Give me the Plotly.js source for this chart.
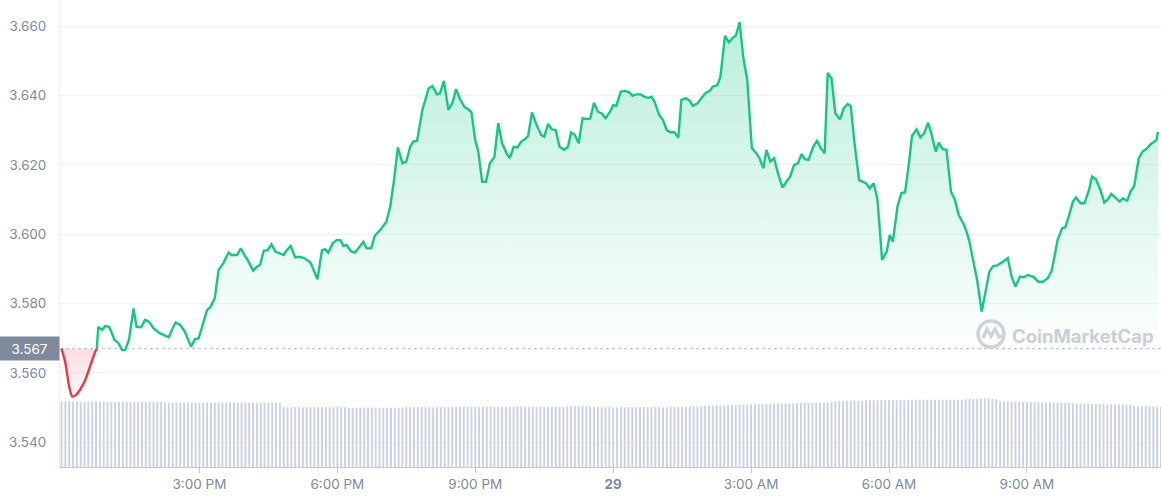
<!DOCTYPE html>
<html>
<head>
<meta charset="utf-8">
<script src="https://cdn.plot.ly/plotly-3.0.1.min.js"></script>
<style>
  html, body { margin: 0; padding: 0; background: #fff; }
  #chart { width: 1161px; height: 500px; }
</style>
</head>
<body>
<div id="chart"></div>
<script>
// ---------------- DATA ----------------
const DAY1 = "2022-10-28";
const DAY2 = "2022-10-29";
const BASE_PRICE = 3.567;

const PRICE_TIMES = [
"12:00","12:05","12:10","12:14","12:19","12:24","12:31","12:37","12:44","12:46",
"12:48","12:53","12:57","13:02","13:05","13:09","13:14","13:19","13:23","13:28",
"13:34","13:38","13:44","13:49","13:54","14:00","14:07","14:13","14:20","14:25",
"14:29","14:35","14:41","14:49","14:54","14:59","15:04","15:10","15:14","15:20",
"15:25","15:31","15:38","15:42","15:49","15:54","16:00","16:03","16:10","16:15",
"16:19","16:24","16:29","16:34","16:39","16:44","16:50","16:54","16:59","17:05",
"17:10","17:16","17:20","17:25","17:30","17:34","17:40","17:44","17:48","17:54",
"17:59","18:04","18:08","18:12","18:18","18:23","18:29","18:34","18:38","18:44",
"18:49","18:56","19:04","19:09","19:14","19:19","19:25","19:30","19:35","19:39",
"19:44","19:51","19:56","19:59","20:04","20:10","20:14","20:19","20:25","20:30",
"20:35","20:40","20:46","20:51","20:55","21:00","21:04","21:09","21:14","21:19",
"21:25","21:30","21:35","21:41","21:45","21:50","21:55","22:00","22:05","22:09",
"22:14","22:20","22:26","22:30","22:35","22:40","22:45","22:50","22:56","23:01",
"23:05","23:10","23:15","23:20","23:25","23:30","23:35","23:40","23:45","23:50",
"23:56","00:00","00:04","00:10","00:15","00:21","00:25","00:30","00:36","00:41",
"00:46","00:50","00:54","01:00","01:05","01:10","01:15","01:20","01:25","01:29",
"01:35","01:40","01:44","01:50","01:55","02:01","02:06","02:10","02:16","02:20",
"02:26","02:31","02:36","02:40","02:45","02:50","02:55","03:01","03:07","03:11",
"03:16","03:20","03:25","03:30","03:35","03:41","03:46","03:51","03:56","04:01",
"04:06","04:10","04:15","04:21","04:26","04:31","04:36","04:40","04:45","04:50",
"04:56","05:01","05:06","05:10","05:15","05:21","05:26","05:30","05:35","05:40",
"05:45","05:51","05:57","06:01","06:05","06:11","06:16","06:21","06:26","06:30",
"06:36","06:41","06:46","06:51","06:55","07:01","07:05","07:10","07:15","07:21",
"07:26","07:31","07:37","07:41","07:45","07:50","07:55","08:01","08:06","08:11",
"08:16","08:21","08:27","08:35","08:40","08:45","08:51","08:56","09:01","09:08",
"09:15","09:21","09:27","09:32","09:36","09:40","09:46","09:50","09:54","10:00",
"10:04","10:10","10:15","10:21","10:25","10:30","10:36","10:41","10:46","10:50",
"10:55","11:01","11:05","11:11","11:15","11:20","11:26","11:31","11:37","11:42",
"11:49","11:51"
];

const PRICES = [
3.5670,3.5629,3.5560,3.5532,3.5537,3.5551,3.5580,3.5617,3.5661,3.5670,
3.5733,3.5724,3.5735,3.5733,3.5719,3.5695,3.5687,3.5666,3.5666,3.5695,
3.5786,3.5733,3.5732,3.5753,3.5748,3.5729,3.5716,3.5710,3.5703,3.5729,
3.5746,3.5738,3.5719,3.5676,3.5697,3.5700,3.5738,3.5782,3.5789,3.5815,
3.5897,3.5916,3.5947,3.5940,3.5940,3.5959,3.5935,3.5926,3.5895,3.5906,
3.5911,3.5952,3.5954,3.5971,3.5950,3.5945,3.5940,3.5954,3.5966,3.5933,
3.5935,3.5932,3.5926,3.5918,3.5892,3.5870,3.5954,3.5957,3.5947,3.5974,
3.5983,3.5983,3.5966,3.5969,3.5950,3.5947,3.5964,3.5978,3.5959,3.5959,
3.5996,3.6012,3.6036,3.6079,3.6156,3.6250,3.6204,3.6209,3.6252,3.6267,
3.6269,3.6358,3.6396,3.6420,3.6427,3.6403,3.6406,3.6442,3.6358,3.6377,
3.6418,3.6390,3.6366,3.6360,3.6351,3.6271,3.6238,3.6151,3.6151,3.6204,
3.6223,3.6320,3.6262,3.6233,3.6219,3.6252,3.6250,3.6267,3.6274,3.6283,
3.6351,3.6315,3.6286,3.6281,3.6318,3.6302,3.6300,3.6252,3.6243,3.6252,
3.6293,3.6286,3.6262,3.6334,3.6332,3.6333,3.6379,3.6353,3.6348,3.6334,
3.6353,3.6372,3.6370,3.6411,3.6413,3.6409,3.6399,3.6403,3.6403,3.6396,
3.6393,3.6396,3.6382,3.6344,3.6329,3.6300,3.6294,3.6294,3.6278,3.6387,
3.6392,3.6384,3.6370,3.6377,3.6392,3.6408,3.6413,3.6425,3.6430,3.6454,
3.6572,3.6553,3.6566,3.6572,3.6611,3.6507,3.6444,3.6248,3.6233,3.6219,
3.6190,3.6243,3.6209,3.6219,3.6176,3.6134,3.6151,3.6166,3.6199,3.6204,
3.6231,3.6216,3.6214,3.6252,3.6269,3.6248,3.6233,3.6465,3.6449,3.6348,
3.6331,3.6363,3.6375,3.6370,3.6262,3.6156,3.6151,3.6147,3.6132,3.6147,
3.6099,3.5926,3.5950,3.5998,3.5978,3.6079,3.6118,3.6121,3.6204,3.6283,
3.6302,3.6279,3.6291,3.6321,3.6293,3.6238,3.6264,3.6245,3.6243,3.6122,
3.6099,3.6055,3.6031,3.6009,3.5978,3.5926,3.5868,3.5777,3.5830,3.5892,
3.5908,3.5910,3.5918,3.5931,3.5878,3.5849,3.5878,3.5876,3.5882,3.5878,
3.5863,3.5863,3.5873,3.5892,3.5935,3.5983,3.6017,3.6020,3.6046,3.6094,
3.6106,3.6089,3.6089,3.6127,3.6166,3.6158,3.6127,3.6091,3.6101,3.6116,
3.6106,3.6094,3.6103,3.6097,3.6122,3.6139,3.6219,3.6238,3.6248,3.6260,
3.6271,3.6295
];
// number of leading points drawn in red (below the opening price)
const RED_COUNT = 10;

// 5-minute volume bars (millions), starting 12:00
const VOLUME_START = "12:00";
const VOLUME = [
141,141,141,140,140,140,140,140,140,140,140,140,
139,139,139,139,139,139,139,139,139,139,139,139,
139,139,139,138,138,138,138,138,138,138,138,138,
138,138,138,138,138,138,138,138,138,138,138,138,
138,138,138,138,138,138,138,138,138,137,129,128,
128,128,128,128,128,128,128,128,128,128,128,128,
128,128,128,127,127,127,127,127,127,127,127,127,
127,127,127,127,127,127,128,128,128,128,128,128,
128,128,128,128,128,128,129,129,129,129,129,129,
129,129,129,129,129,129,129,129,129,129,129,129,
129,129,129,129,129,129,129,129,129,129,129,129,
130,130,130,130,130,130,130,129,128,128,128,128,
128,128,128,128,128,128,128,128,128,128,128,128,
128,128,128,128,129,129,129,129,130,130,130,130,
131,131,131,132,132,132,132,133,133,133,133,134,
134,134,135,135,135,135,136,136,136,136,136,136,
137,137,137,137,137,137,138,138,138,139,141,141,
142,142,142,142,142,142,143,143,143,143,143,143,
143,143,143,143,143,143,144,144,144,144,144,144,
144,144,144,144,144,144,144,144,145,146,146,146,
147,147,147,146,145,141,140,140,140,140,140,139,
139,139,139,139,138,138,138,138,137,137,137,137,
136,136,136,136,136,135,135,135,135,134,134,134,
134,134,133,133,131,130,130,130,130,130,129,129
];

const Y_TICKS = [3.54, 3.56, 3.58, 3.60, 3.62, 3.64, 3.66];
const Y_TICK_LABELS = ["3.540","3.560","3.580","3.600","3.620","3.640","3.660"];
const X_TICKS = [DAY1+" 15:00", DAY1+" 18:00", DAY1+" 21:00", DAY2+" 00:00", DAY2+" 03:00", DAY2+" 06:00", DAY2+" 09:00"];
const X_TICK_LABELS = ["3:00 PM","6:00 PM","9:00 PM","<b>29</b>","3:00 AM","6:00 AM","9:00 AM"];
const X_RANGE = [DAY1+" 11:58", DAY2+" 11:55"];
const Y_RANGE = [3.5329, 3.6675];

// ---------------- BUILD ----------------
function withDates(times) {
  let day = DAY1, prev = "";
  return times.map(t => {
    if (prev && t < prev) day = DAY2;
    prev = t;
    return day + " " + t;
  });
}
const priceX = withDates(PRICE_TIMES);

// volume timestamps every 5 minutes
const volX = [];
{
  const [h0, m0] = VOLUME_START.split(":").map(Number);
  const start = new Date(DAY1 + "T00:00:00Z").getTime() + (h0*60+m0)*60000;
  for (let i = 0; i < VOLUME.length; i++) {
    const d = new Date(start + i*300000);
    const pad = n => String(n).padStart(2, "0");
    volX.push(d.getUTCFullYear()+"-"+pad(d.getUTCMonth()+1)+"-"+pad(d.getUTCDate())+" "+pad(d.getUTCHours())+":"+pad(d.getUTCMinutes()));
  }
}

const GREEN = "#16c784";
const RED = "#ea3943";

const redX = priceX.slice(0, RED_COUNT), redY = PRICES.slice(0, RED_COUNT);
const greenX = priceX.slice(RED_COUNT - 1), greenY = PRICES.slice(RED_COUNT - 1);

const traces = [
  { type: "bar", x: volX, y: VOLUME, yaxis: "y2", marker: { color: "#cbd1e2", line: { width: 0 } }, hoverinfo: "skip", showlegend: false },
  { type: "scatter", mode: "lines", x: redX, y: redX.map(() => BASE_PRICE), line: { width: 0, color: "rgba(0,0,0,0)" }, hoverinfo: "skip", showlegend: false },
  { type: "scatter", mode: "lines", x: redX, y: redY, fill: "tonexty",
    fillgradient: { type: "vertical", start: 3.553, stop: BASE_PRICE,
      colorscale: [[0, "rgba(234,57,67,0.04)"], [1, "rgba(234,57,67,0.16)"]] },
    line: { color: RED, width: 2.4, shape: "spline", smoothing: 0.6 }, showlegend: false },
  { type: "scatter", mode: "lines", x: greenX, y: greenX.map(() => BASE_PRICE), line: { width: 0, color: "rgba(0,0,0,0)" }, hoverinfo: "skip", showlegend: false },
  { type: "scatter", mode: "lines", x: greenX, y: greenY, fill: "tonexty",
    fillgradient: { type: "vertical", start: BASE_PRICE, stop: 3.662,
      colorscale: [[0, "rgba(22,199,132,0.01)"], [1, "rgba(22,199,132,0.30)"]] },
    line: { color: GREEN, width: 2.4 }, showlegend: false }
];

const FONT = "Inter, 'Open Sans', sans-serif";
const LABEL_COLOR = "#808a9d";

const layout = {
  width: 1161, height: 500,
  margin: { l: 60, r: 0, t: 0, b: 33 },
  paper_bgcolor: "#ffffff", plot_bgcolor: "#ffffff",
  showlegend: false,
  bargap: 0.5,
  font: { family: FONT, color: LABEL_COLOR },
  xaxis: {
    type: "date", range: X_RANGE,
    tickvals: X_TICKS, ticktext: X_TICK_LABELS,
    showgrid: false, zeroline: false,
    showline: true, linecolor: "#c3c9d6", linewidth: 1,
    ticks: "outside", ticklen: 5, tickcolor: "#c3c9d6",
    tickfont: { family: FONT, size: 13.5, color: LABEL_COLOR }
  },
  yaxis: {
    range: Y_RANGE, tickvals: Y_TICKS, ticktext: Y_TICK_LABELS,
    showgrid: true, gridcolor: "#eff2f5", gridwidth: 1, zeroline: false,
    showline: true, linecolor: "#eff2f5",
    ticks: "outside", ticklen: 10, tickcolor: "rgba(0,0,0,0)",
    tickfont: { family: FONT, size: 13.5, color: LABEL_COLOR }
  },
  yaxis2: { overlaying: "y", range: [0, 1000], visible: false, fixedrange: true },
  shapes: [
    { type: "line", xref: "paper", x0: 0, x1: 1, yref: "y", y0: BASE_PRICE, y1: BASE_PRICE,
      line: { color: "#b4bccb", width: 1, dash: "dot" }, layer: "below" },
    // watermark logo
    { type: "circle", xref: "paper", yref: "paper", xsizemode: "pixel", ysizemode: "pixel",
      xanchor: (991-60)/1101, yanchor: (467-334)/467, x0: -13, x1: 13, y0: -13, y1: 13,
      line: { color: "#cfd2d8", width: 3.5 } },
    { type: "path", xref: "paper", yref: "paper", xsizemode: "pixel", ysizemode: "pixel",
      xanchor: (991-60)/1101, yanchor: (467-334)/467,
      path: "M -8 -4 L -4 5 L 0 -2 L 4 5 L 8 -3 L 13 -1",
      line: { color: "#cfd2d8", width: 3.2 } }
  ],
  annotations: [
    { xref: "paper", x: 0, xanchor: "right", yref: "y", y: BASE_PRICE, yanchor: "middle",
      text: BASE_PRICE.toFixed(3), showarrow: false, bgcolor: "#808a9d", width: 59, height: 23,
      borderpad: 0, font: { family: FONT, size: 13.5, color: "#ffffff" } },
    { xref: "paper", x: (1083-60)/1101, xanchor: "center", yref: "paper", y: (467-336)/467, yanchor: "middle",
      text: "<b>CoinMarketCap</b>", showarrow: false,
      font: { family: FONT, size: 18.5, color: "#cbced5" } }
  ]
};

Plotly.newPlot("chart", traces, layout, { displayModeBar: false, staticPlot: true });
</script>
</body>
</html>
